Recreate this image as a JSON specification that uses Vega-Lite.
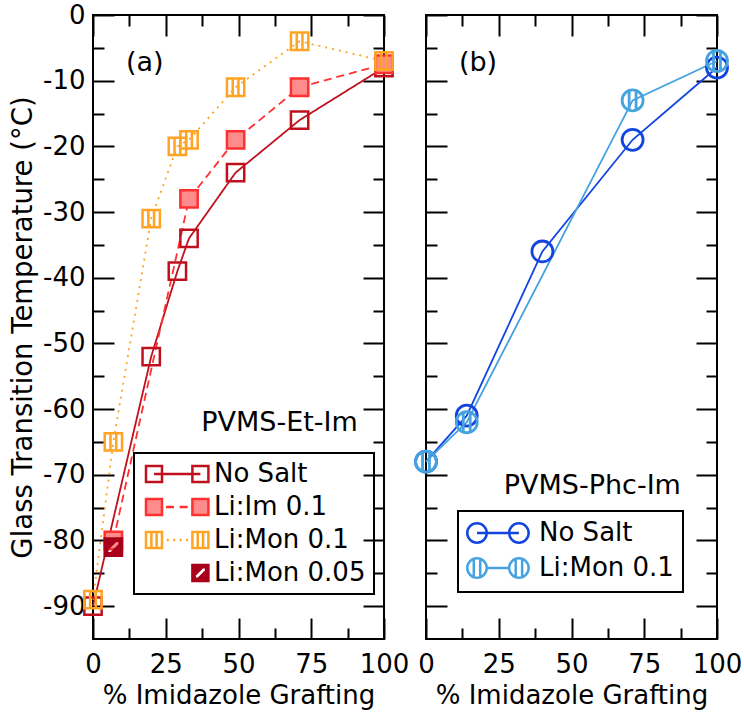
{
  "$schema": "https://vega.github.io/schema/vega-lite/v6.json",
  "padding": {"left": 8, "top": 1, "right": 10, "bottom": 4},
  "config": {
    "font": "DejaVu Sans",
    "view": {"stroke": "black", "strokeWidth": 2},
    "axis": {
      "domain": false,
      "grid": false,
      "tickColor": "black",
      "tickWidth": 2,
      "labelFont": "DejaVu Sans",
      "labelFontSize": 26,
      "labelColor": "black",
      "titleFont": "DejaVu Sans",
      "titleFontSize": 26,
      "titleFontWeight": "normal",
      "titleColor": "black"
    },
    "legend": {
      "labelFont": "DejaVu Sans",
      "labelFontSize": 26,
      "labelColor": "black",
      "strokeColor": "black",
      "strokeWidth": 2,
      "orient": "none"
    }
  },
  "datasets": {
    "panelA": [
      {"series": "No Salt", "graft": 0, "tg": -90},
      {"series": "No Salt", "graft": 20, "tg": -52},
      {"series": "No Salt", "graft": 29, "tg": -39},
      {"series": "No Salt", "graft": 33, "tg": -34},
      {"series": "No Salt", "graft": 49, "tg": -24},
      {"series": "No Salt", "graft": 71, "tg": -16},
      {"series": "No Salt", "graft": 100, "tg": -8},
      {"series": "Li:Im 0.1", "graft": 7, "tg": -80},
      {"series": "Li:Im 0.1", "graft": 33, "tg": -28},
      {"series": "Li:Im 0.1", "graft": 49, "tg": -19},
      {"series": "Li:Im 0.1", "graft": 71, "tg": -11},
      {"series": "Li:Im 0.1", "graft": 100, "tg": -7.5},
      {"series": "Li:Mon 0.1", "graft": 0, "tg": -89},
      {"series": "Li:Mon 0.1", "graft": 7, "tg": -65},
      {"series": "Li:Mon 0.1", "graft": 20, "tg": -31},
      {"series": "Li:Mon 0.1", "graft": 29, "tg": -20},
      {"series": "Li:Mon 0.1", "graft": 33, "tg": -19},
      {"series": "Li:Mon 0.1", "graft": 49, "tg": -11},
      {"series": "Li:Mon 0.1", "graft": 71, "tg": -4},
      {"series": "Li:Mon 0.1", "graft": 100, "tg": -7},
      {"series": "Li:Mon 0.05", "graft": 7, "tg": -81}
    ],
    "panelB": [
      {"series": "No Salt", "graft": 0, "tg": -68},
      {"series": "No Salt", "graft": 14, "tg": -61},
      {"series": "No Salt", "graft": 40, "tg": -36},
      {"series": "No Salt", "graft": 71, "tg": -19},
      {"series": "No Salt", "graft": 100, "tg": -8},
      {"series": "Li:Mon 0.1", "graft": 0, "tg": -68},
      {"series": "Li:Mon 0.1", "graft": 14, "tg": -62},
      {"series": "Li:Mon 0.1", "graft": 71, "tg": -13},
      {"series": "Li:Mon 0.1", "graft": 100, "tg": -7}
    ]
  },
  "spacing": 42,
  "bounds": "flush",
  "resolve": {
    "scale": {"color": "independent", "shape": "independent", "fill": "independent", "strokeDash": "independent"},
    "legend": {"color": "independent"}
  },
  "hconcat": [
    {
      "width": 291,
      "height": 624,
      "data": {"name": "panelA"},
      "resolve": {
        "scale": {"color": "independent", "shape": "independent", "fill": "independent"},
        "axis": {"x": "independent", "y": "independent"}
      },
      "layer": [
        {
          "mark": {"type": "line", "strokeWidth": 1.8},
          "encoding": {
            "x": {
              "field": "graft", "type": "quantitative",
              "scale": {"domain": [0, 100], "nice": false},
              "axis": {
                "orient": "bottom",
                "values": [0, 25, 50, 75, 100],
                "tickSize": -21,
                "labelPadding": 33,
                "labelFlush": false,
                "labelOverlap": false,
                "title": "% Imidazole Grafting",
                "titlePadding": 5
              }
            },
            "y": {
              "field": "tg", "type": "quantitative",
              "scale": {"domain": [-95, 0], "nice": false},
              "axis": {
                "orient": "left",
                "values": [-90, -80, -70, -60, -50, -40, -30, -20, -10, 0],
                "labelExpr": "'' + datum.value",
                "tickSize": -21,
                "labelPadding": 29,
                "labelFlush": false,
                "labelOverlap": false,
                "title": "Glass Transition Temperature (°C)",
                "titleFontSize": 27.5,
                "titlePadding": 5
              }
            },
            "color": {
              "field": "series", "type": "nominal",
              "scale": {"domain": ["No Salt", "Li:Im 0.1", "Li:Mon 0.1", "Li:Mon 0.05"], "range": ["#c0101e", "#ff3030", "#ffa322", "#a8001a"]},
              "legend": null
            },
            "strokeDash": {
              "field": "series", "type": "nominal",
              "scale": {"domain": ["No Salt", "Li:Im 0.1", "Li:Mon 0.1", "Li:Mon 0.05"], "range": [[1, 0], [8, 5], [2, 5], [1, 0]]},
              "legend": null
            }
          }
        },
        {
          "mark": {"type": "point", "filled": false, "size": 300, "strokeWidth": 2.5, "opacity": 1},
          "encoding": {
            "x": {
              "field": "graft", "type": "quantitative",
              "scale": {"domain": [0, 100], "nice": false},
              "axis": {"orient": "top", "values": [0, 25, 50, 75, 100], "tickSize": -21, "labels": false, "title": null}
            },
            "y": {
              "field": "tg", "type": "quantitative",
              "scale": {"domain": [-95, 0], "nice": false},
              "axis": {"orient": "right", "values": [-90, -80, -70, -60, -50, -40, -30, -20, -10, 0], "tickSize": -21, "labels": false, "title": null}
            },
            "color": {
              "field": "series", "type": "nominal",
              "scale": {"domain": ["No Salt", "Li:Im 0.1", "Li:Mon 0.1", "Li:Mon 0.05"], "range": ["#c0101e", "#ff3030", "#ffa322", "#a8001a"]},
              "legend": null
            },
            "shape": {
              "field": "series", "type": "nominal",
              "scale": {
                "domain": ["No Salt", "Li:Im 0.1", "Li:Mon 0.1", "Li:Mon 0.05"],
                "range": [
                  "M-1,-1H1V1H-1Z",
                  "M-1,-1H1V1H-1Z",
                  "M-1,-1H1V1H-1ZM-0.33,-1V1M0.33,-1V1",
                  "M-1,-1H1V1H-1ZM-0.72,0.27L-0.72,0.72L-0.27,0.72L0.72,-0.27L0.72,-0.72L0.27,-0.72Z"
                ]
              },
              "legend": null
            },
            "fill": {
              "field": "series", "type": "nominal",
              "scale": {"domain": ["No Salt", "Li:Im 0.1", "Li:Mon 0.1", "Li:Mon 0.05"], "range": ["transparent", "#ff8c8c", "transparent", "#a8001a"]},
              "legend": null
            }
          }
        },
        {
          "transform": [{"filter": "false"}],
          "mark": {"type": "point", "filled": false, "strokeWidth": 2.5, "opacity": 1},
          "encoding": {
            "x": {"field": "graft", "type": "quantitative", "scale": {"domain": [0, 100], "nice": false}, "axis": null},
            "y": {"field": "tg", "type": "quantitative", "scale": {"domain": [-95, 0], "nice": false}, "axis": null},
            "color": {
              "field": "series", "type": "nominal",
              "scale": {"domain": ["No Salt", "Li:Im 0.1", "Li:Mon 0.1", "Li:Mon 0.05"], "range": ["#c0101e", "#ff3030", "#ffa322", "#a8001a"]},
              "legend": {"title": null, "legendX": 41, "legendY": 438, "padding": 8, "rowPadding": 7, "symbolSize": 256, "symbolStrokeWidth": 2.5, "symbolOffset": -1, "labelOffset": 47}
            },
            "shape": {
              "field": "series", "type": "nominal",
              "scale": {
                "domain": ["No Salt", "Li:Im 0.1", "Li:Mon 0.1", "Li:Mon 0.05"],
                "range": [
                  "M-1,-1H1V1H-1ZM4.8,-1H6.8V1H4.8ZM0,0H5.8",
                  "M-1,-1H1V1H-1ZM4.8,-1H6.8V1H4.8ZM1.5,0H2.5M3.2,0H4.2",
                  "M-1,-1H1V1H-1ZM-0.33,-1V1M0.33,-1V1M4.8,-1H6.8V1H4.8ZM5.47,-1V1M6.13,-1V1M1.6,0H1.85M2.4,0H2.65M3.2,0H3.45M4.0,0H4.25",
                  "M4.8,-1H6.8V1H4.8ZM5.08,0.27L5.08,0.72L5.53,0.72L6.52,-0.27L6.52,-0.72L6.07,-0.72Z"
                ]
              },
              "legend": {"title": null, "legendX": 41, "legendY": 438, "padding": 8, "rowPadding": 7, "symbolSize": 256, "symbolStrokeWidth": 2.5, "symbolOffset": -1, "labelOffset": 47}
            },
            "fill": {
              "field": "series", "type": "nominal",
              "scale": {"domain": ["No Salt", "Li:Im 0.1", "Li:Mon 0.1", "Li:Mon 0.05"], "range": ["transparent", "#ff8c8c", "transparent", "#a8001a"]},
              "legend": {"title": null, "legendX": 41, "legendY": 438, "padding": 8, "rowPadding": 7, "symbolSize": 256, "symbolStrokeWidth": 2.5, "symbolOffset": -1, "labelOffset": 47}
            }
          }
        },
        {
          "data": {"values": [{"label": "(a)"}]},
          "mark": {"type": "text", "align": "left", "baseline": "alphabetic", "fontSize": 27, "font": "DejaVu Sans", "color": "black"},
          "encoding": {
            "x": {
              "datum": 11.3, "type": "quantitative", "scale": {"domain": [0, 100], "nice": false},
              "axis": {"orient": "bottom", "values": [12.5, 37.5, 62.5, 87.5], "tickSize": -11, "labels": false, "title": null}
            },
            "y": {
              "datum": -8.5, "type": "quantitative", "scale": {"domain": [-95, 0], "nice": false},
              "axis": {"orient": "left", "values": [-85, -75, -65, -55, -45, -35, -25, -15, -5], "tickSize": -11, "labels": false, "title": null}
            },
            "text": {"field": "label"}
          }
        },
        {
          "data": {"values": [{"label": "PVMS-Et-Im"}]},
          "mark": {"type": "text", "align": "right", "baseline": "alphabetic", "fontSize": 27, "font": "DejaVu Sans", "color": "black"},
          "encoding": {
            "x": {
              "datum": 91, "type": "quantitative", "scale": {"domain": [0, 100], "nice": false},
              "axis": {"orient": "top", "values": [12.5, 37.5, 62.5, 87.5], "tickSize": -11, "labels": false, "title": null}
            },
            "y": {
              "datum": -63.3, "type": "quantitative", "scale": {"domain": [-95, 0], "nice": false},
              "axis": {"orient": "right", "values": [-85, -75, -65, -55, -45, -35, -25, -15, -5], "tickSize": -11, "labels": false, "title": null}
            },
            "text": {"field": "label"}
          }
        }
      ]
    },
    {
      "width": 291,
      "height": 624,
      "data": {"name": "panelB"},
      "resolve": {
        "scale": {"color": "independent", "shape": "independent"},
        "axis": {"x": "independent", "y": "independent"}
      },
      "layer": [
        {
          "mark": {"type": "line", "strokeWidth": 1.8},
          "encoding": {
            "x": {
              "field": "graft", "type": "quantitative",
              "scale": {"domain": [0, 100], "nice": false},
              "axis": {
                "orient": "bottom",
                "values": [0, 25, 50, 75, 100],
                "tickSize": -21,
                "labelPadding": 33,
                "labelFlush": false,
                "labelOverlap": false,
                "title": "% Imidazole Grafting",
                "titlePadding": 5
              }
            },
            "y": {
              "field": "tg", "type": "quantitative",
              "scale": {"domain": [-95, 0], "nice": false},
              "axis": {"orient": "left", "values": [-90, -80, -70, -60, -50, -40, -30, -20, -10, 0], "tickSize": -21, "labels": false, "title": null}
            },
            "color": {
              "field": "series", "type": "nominal",
              "scale": {"domain": ["No Salt", "Li:Mon 0.1"], "range": ["#1245e0", "#45a3e0"]},
              "legend": null
            }
          }
        },
        {
          "mark": {"type": "point", "filled": false, "size": 440, "strokeWidth": 2.8, "opacity": 1},
          "encoding": {
            "x": {
              "field": "graft", "type": "quantitative",
              "scale": {"domain": [0, 100], "nice": false},
              "axis": {"orient": "top", "values": [0, 25, 50, 75, 100], "tickSize": -21, "labels": false, "title": null}
            },
            "y": {
              "field": "tg", "type": "quantitative",
              "scale": {"domain": [-95, 0], "nice": false},
              "axis": {"orient": "right", "values": [-90, -80, -70, -60, -50, -40, -30, -20, -10, 0], "tickSize": -21, "labels": false, "title": null}
            },
            "color": {
              "field": "series", "type": "nominal",
              "scale": {"domain": ["No Salt", "Li:Mon 0.1"], "range": ["#1245e0", "#45a3e0"]},
              "legend": null
            },
            "shape": {
              "field": "series", "type": "nominal",
              "scale": {
                "domain": ["No Salt", "Li:Mon 0.1"],
                "range": [
                  "M1,0A1,1,0,1,1,-1,0A1,1,0,1,1,1,0Z",
                  "M1,0A1,1,0,1,1,-1,0A1,1,0,1,1,1,0ZM-0.33,-0.94V0.94M0.33,-0.94V0.94"
                ]
              },
              "legend": null
            }
          }
        },
        {
          "transform": [{"filter": "false"}],
          "mark": {"type": "point", "filled": false, "strokeWidth": 2.5, "opacity": 1},
          "encoding": {
            "x": {"field": "graft", "type": "quantitative", "scale": {"domain": [0, 100], "nice": false}, "axis": null},
            "y": {"field": "tg", "type": "quantitative", "scale": {"domain": [-95, 0], "nice": false}, "axis": null},
            "color": {
              "field": "series", "type": "nominal",
              "scale": {"domain": ["No Salt", "Li:Mon 0.1"], "range": ["#1245e0", "#45a3e0"]},
              "legend": {"title": null, "legendX": 32, "legendY": 496, "padding": 9, "rowPadding": 5, "symbolSize": 380, "symbolStrokeWidth": 2.5, "symbolOffset": -3, "labelOffset": 49}
            },
            "shape": {
              "field": "series", "type": "nominal",
              "scale": {
                "domain": ["No Salt", "Li:Mon 0.1"],
                "range": [
                  "M1,0A1,1,0,1,1,-1,0A1,1,0,1,1,1,0ZM5.3,0A1,1,0,1,1,3.3,0A1,1,0,1,1,5.3,0ZM0,0H4.3",
                  "M1,0A1,1,0,1,1,-1,0A1,1,0,1,1,1,0ZM5.3,0A1,1,0,1,1,3.3,0A1,1,0,1,1,5.3,0ZM-0.33,-0.94V0.94M0.33,-0.94V0.94M3.97,-0.94V0.94M4.63,-0.94V0.94M1,0H3.3"
                ]
              },
              "legend": {"title": null, "legendX": 32, "legendY": 496, "padding": 9, "rowPadding": 5, "symbolSize": 380, "symbolStrokeWidth": 2.5, "symbolOffset": -3, "labelOffset": 49}
            }
          }
        },
        {
          "data": {"values": [{"label": "(b)"}]},
          "mark": {"type": "text", "align": "left", "baseline": "alphabetic", "fontSize": 27, "font": "DejaVu Sans", "color": "black"},
          "encoding": {
            "x": {
              "datum": 11.3, "type": "quantitative", "scale": {"domain": [0, 100], "nice": false},
              "axis": {"orient": "bottom", "values": [12.5, 37.5, 62.5, 87.5], "tickSize": -11, "labels": false, "title": null}
            },
            "y": {
              "datum": -8.5, "type": "quantitative", "scale": {"domain": [-95, 0], "nice": false},
              "axis": {"orient": "left", "values": [-85, -75, -65, -55, -45, -35, -25, -15, -5], "tickSize": -11, "labels": false, "title": null}
            },
            "text": {"field": "label"}
          }
        },
        {
          "data": {"values": [{"label": "PVMS-Phc-Im"}]},
          "mark": {"type": "text", "align": "right", "baseline": "alphabetic", "fontSize": 27, "font": "DejaVu Sans", "color": "black"},
          "encoding": {
            "x": {
              "datum": 87.6, "type": "quantitative", "scale": {"domain": [0, 100], "nice": false},
              "axis": {"orient": "top", "values": [12.5, 37.5, 62.5, 87.5], "tickSize": -11, "labels": false, "title": null}
            },
            "y": {
              "datum": -72.9, "type": "quantitative", "scale": {"domain": [-95, 0], "nice": false},
              "axis": {"orient": "right", "values": [-85, -75, -65, -55, -45, -35, -25, -15, -5], "tickSize": -11, "labels": false, "title": null}
            },
            "text": {"field": "label"}
          }
        }
      ]
    }
  ]
}
